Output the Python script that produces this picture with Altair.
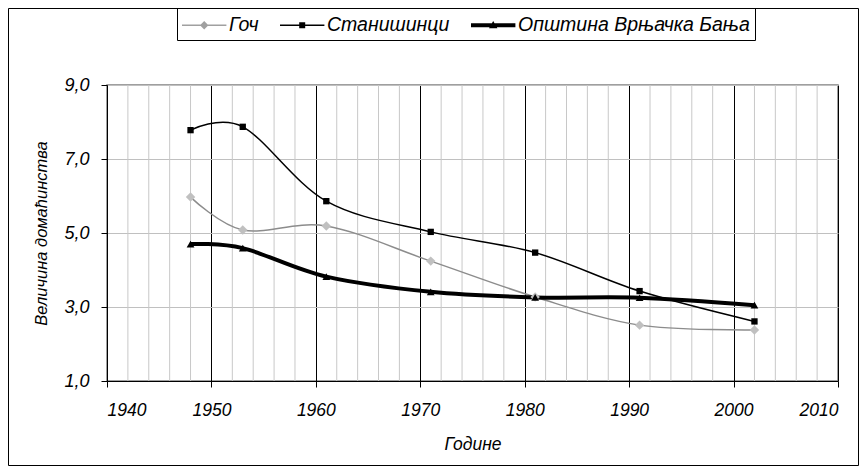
import altair as alt
import pandas as pd

# ---- data ----
years = [1948, 1953, 1961, 1971, 1981, 1991, 2002]
goch = [5.97, 5.08, 5.19, 4.24, 3.27, 2.51, 2.38]
stanisinci = [7.78, 7.87, 5.86, 5.03, 4.47, 3.43, 2.61]
opstina = [4.70, 4.59, 3.82, 3.41, 3.26, 3.25, 3.05]
series_names = ["Гоч", "Станишинци", "Општина Врњачка Бања"]

x_major = [1940, 1950, 1960, 1970, 1980, 1990, 2000, 2010]
x_minor = [y for y in range(1942, 2010, 2) if y % 10 != 0]
y_ticks = [1, 3, 5, 7, 9]

FONT = "Liberation Sans"
FS = 17.5

rows = []
for name, vals in zip(series_names, [goch, stanisinci, opstina]):
    for yr, v in zip(years, vals):
        rows.append({"year": yr, "value": v, "series": name})
df = pd.DataFrame(rows)
minor_df = pd.DataFrame({"year": x_minor})
frame_df = pd.DataFrame({"k": [0]})

W, H = 731, 296
PAD = {"left": 99, "top": 77, "right": 21, "bottom": 85}

xscale = alt.Scale(domain=[1940, 2010], nice=False, zero=False)
yscale = alt.Scale(domain=[1, 9], nice=False, zero=False)

x_axis = alt.Axis(values=x_major, format="d", grid=True, gridColor="black", gridWidth=1,
                  domainColor="black", tickColor="black", tickSize=6,
                  labelFont=FONT, labelFontSize=FS, labelFontStyle="italic", labelColor="black",
                  labelPadding=14, title="Године", titleFont=FONT, titleFontSize=FS,
                  titleFontStyle="italic", titleFontWeight="normal", titleColor="black",
                  titlePadding=17)
y_axis = alt.Axis(values=y_ticks, grid=True, gridColor="#c0c0c0", gridWidth=1,
                  labelExpr="replace(format(datum.value, '.1f'), '.', ',')",
                  domainColor="black", tickColor="black", tickSize=6,
                  labelFont=FONT, labelFontSize=18, labelFontStyle="italic", labelColor="black",
                  labelPadding=12, title="Величина домаћинства", titleFont=FONT,
                  titleFontSize=16.5, titleFontStyle="italic", titleFontWeight="normal",
                  titleColor="black", titlePadding=14)

X = alt.X("year:Q", scale=xscale, axis=x_axis)
Y = alt.Y("value:Q", scale=yscale, axis=y_axis)

minor = alt.Chart(minor_df).mark_rule(color="#c8c8c8", strokeWidth=1).encode(
    x=alt.X("year:Q", scale=xscale, axis=x_axis)
)

base = alt.Chart(df)
styles = {
    "Гоч": dict(line_color="#8c8c8c", lw=1.5, shape="diamond", fill="#c0c0c0", size=90),
    "Станишинци": dict(line_color="black", lw=1.5, shape="square", fill="black", size=40),
    "Општина Врњачка Бања": dict(line_color="black", lw=4, shape="triangle-up", fill="black", size=60),
}
layers = [minor]
for name in series_names:
    st = styles[name]
    sub = base.transform_filter(alt.datum.series == name)
    layers.append(sub.mark_line(interpolate="cardinal", color=st["line_color"],
                                strokeWidth=st["lw"]).encode(x=X, y=Y))
for name in series_names:
    st = styles[name]
    sub = base.transform_filter(alt.datum.series == name)
    layers.append(sub.mark_point(shape=st["shape"], filled=True, fill=st["fill"],
                                 size=st["size"], opacity=1, strokeWidth=0).encode(x=X, y=Y))

legend_paths = [
    "M-1,-0.06H2.7V0.06H-1Z M0.85,-0.35L1.2,0L0.85,0.35L0.5,0Z",
    "M-1,-0.06H2.7V0.06H-1Z M0.6,-0.25H1.1V0.25H0.6Z",
    "M-1,-0.16H2.7V0.16H-1Z M0.85,-0.36L1.2,0.24H0.5Z",
]
leg = alt.Legend(orient="none", legendX=70, legendY=-77, direction="horizontal", title=None,
                 strokeColor="black", padding=5, symbolSize=576, symbolStrokeWidth=0,
                 symbolOpacity=1, labelFont=FONT, labelFontSize=19.5, labelFontStyle="italic",
                 labelColor="black", labelOffset=23, columnPadding=21, labelLimit=500)
legend_layer = base.mark_point(filled=True, opacity=0).encode(
    x=X, y=Y,
    color=alt.Color("series:N", scale=alt.Scale(domain=series_names,
                                                range=["#a0a0a0", "black", "black"]), legend=leg),
    shape=alt.Shape("series:N", scale=alt.Scale(domain=series_names, range=legend_paths), legend=leg),
)
layers.append(legend_layer)

frame = alt.Chart(frame_df).mark_rect(fillOpacity=0, stroke="black", strokeWidth=1).encode(
    x=alt.value(-98.5), x2=alt.value(751.5), y=alt.value(-76.5), y2=alt.value(380.5)
)
layers.append(frame)

chart = alt.layer(*layers).properties(
    width=W, height=H,
    autosize=alt.AutoSizeParams(type="none"),
    padding=PAD,
).configure_view(stroke="#808080", strokeWidth=1.5)

chart.save("out.html", embed_options={"renderer": "svg", "actions": False})
